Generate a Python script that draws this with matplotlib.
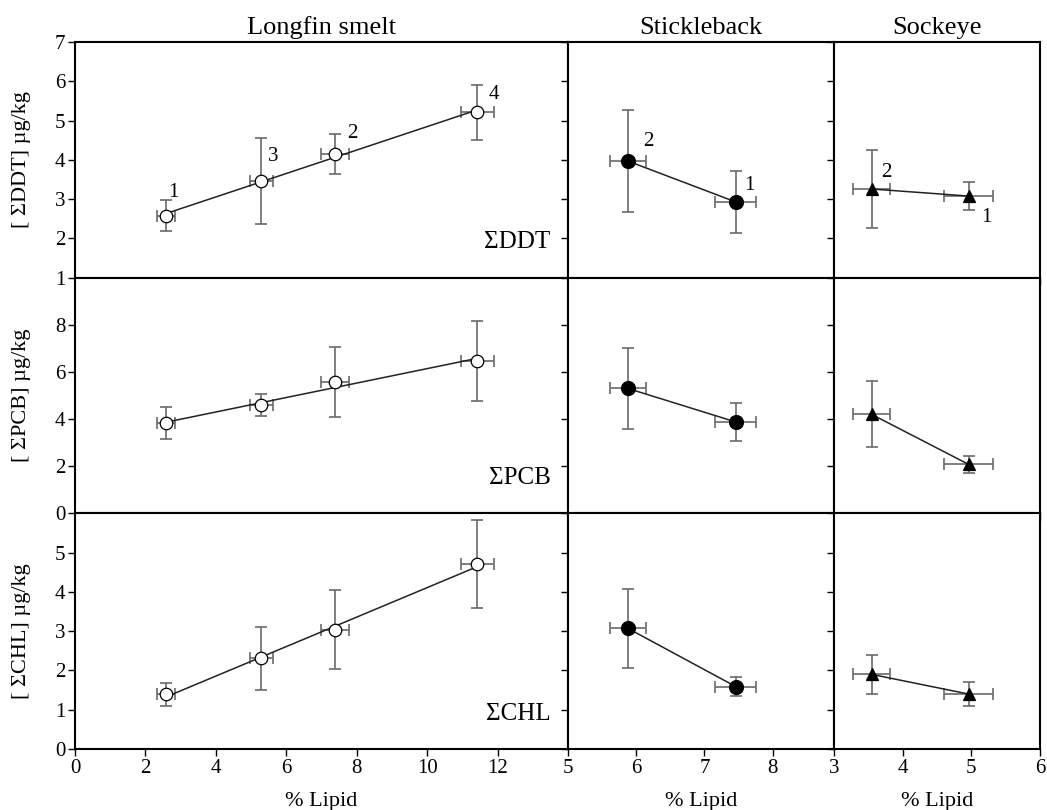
"""Contaminant concentration vs. % lipid for three fish species.

Rows: sum DDT, sum PCB, sum CHL. Columns: longfin smelt, stickleback, sockeye.
"""

import matplotlib

matplotlib.use("Agg")
import matplotlib.pyplot as plt
import numpy as np

# --------------------------------------------------------------------- #
# Data
# --------------------------------------------------------------------- #
SPECIES = ["Longfin smelt", "Stickleback", "Sockeye"]
COMPOUNDS = ["ΣDDT", "ΣPCB", "ΣCHL"]

# longfin smelt, sites in order of increasing lipid
lf_lipid = [2.59, 5.29, 7.39, 11.42]
lf_lipid_err = [0.26, 0.33, 0.40, 0.47]
lf_ddt = [2.58, 3.47, 4.15, 5.22]
lf_ddt_err = [0.40, 1.10, 0.50, 0.70]
lf_pcb = [3.83, 4.60, 5.58, 6.48]
lf_pcb_err = [0.69, 0.45, 1.50, 1.70]
lf_chl = [1.39, 2.31, 3.04, 4.70]
lf_chl_err = [0.30, 0.80, 1.00, 1.12]
lf_sites = ["1", "3", "2", "4"]

# stickleback
sb_lipid = [5.88, 7.46]
sb_lipid_err = [0.26, 0.30]
sb_ddt = [3.97, 2.93]
sb_ddt_err = [1.30, 0.80]
sb_pcb = [5.30, 3.88]
sb_pcb_err = [1.70, 0.80]
sb_chl = [3.07, 1.59]
sb_chl_err = [1.00, 0.25]
sb_sites = ["2", "1"]

# sockeye
sk_lipid = [3.55, 4.96]
sk_lipid_err = [0.27, 0.36]
sk_ddt = [3.26, 3.08]
sk_ddt_err = [1.00, 0.35]
sk_pcb = [4.20, 2.08]
sk_pcb_err = [1.40, 0.35]
sk_chl = [1.90, 1.40]
sk_chl_err = [0.50, 0.30]
sk_sites = ["2", "1"]

# axis ranges and ticks
XLIMS = [(0, 14), (5, 8.9), (3, 6)]
XTICKS = [[0, 2, 4, 6, 8, 10, 12], [5, 6, 7, 8], [3, 4, 5, 6]]
YLIMS = [(1, 7), (0, 10), (0, 6)]
YTICKS = [[1, 2, 3, 4, 5, 6, 7], [0, 2, 4, 6, 8], [0, 1, 2, 3, 4, 5]]

# site-label offsets (pixels) for the top row
LF_OFFSETS = [(7, 23), (12, 24), (17, 21), (17, 18)]
SB_OFFSETS = [(20, 20), (14, 16)]
SK_OFFSETS = [(15, 16), (18, -21)]

plt.rcParams["font.family"] = ["Liberation Serif", "DejaVu Serif"]

ERR_COLOR = "#6a6a6a"


def draw_panel(ax, x, xerr, y, yerr, marker, face, fit):
    ax.errorbar(x, y, xerr=xerr, yerr=yerr, fmt="none", ecolor=ERR_COLOR,
                elinewidth=1.2, capsize=4, capthick=1.2, zorder=2)
    if fit:
        # longfin panels show a least-squares line across the site range
        slope, icpt = np.polyfit(x, y, 1)
        xs = np.array([min(x), max(x)])
        ax.plot(xs, slope * xs + icpt, color="#222222", lw=1.1, zorder=3)
    else:
        ax.plot(x, y, color="#222222", lw=1.1, zorder=3)
    size = 10 if (marker == "o" and face == "black") else 9
    ax.plot(x, y, ls="none", marker=marker, ms=size, mfc=face, mec="black",
            mew=0.9, zorder=4)


fig = plt.figure(figsize=(10.47, 8.10), dpi=100)
gs = fig.add_gridspec(3, 3, left=0.0716, right=0.9933, top=0.948, bottom=0.0753,
                      width_ratios=[493, 266, 206], wspace=0, hspace=0)

series = [
    (lf_lipid, lf_lipid_err, [(lf_ddt, lf_ddt_err), (lf_pcb, lf_pcb_err),
                              (lf_chl, lf_chl_err)], "o", "white", True,
     lf_sites, LF_OFFSETS),
    (sb_lipid, sb_lipid_err, [(sb_ddt, sb_ddt_err), (sb_pcb, sb_pcb_err),
                              (sb_chl, sb_chl_err)], "o", "black", False,
     sb_sites, SB_OFFSETS),
    (sk_lipid, sk_lipid_err, [(sk_ddt, sk_ddt_err), (sk_pcb, sk_pcb_err),
                              (sk_chl, sk_chl_err)], "^", "black", False,
     sk_sites, SK_OFFSETS),
]

for col, (lx, lxe, rows, marker, face, fit, sites, offs) in enumerate(series):
    for row, (vals, errs) in enumerate(rows):
        ax = fig.add_subplot(gs[row, col])
        draw_panel(ax, lx, lxe, vals, errs, marker, face, fit)
        ax.set_xlim(*XLIMS[col])
        ax.set_ylim(*YLIMS[row])
        ax.set_xticks(XTICKS[col])
        ax.set_yticks(YTICKS[row])
        ax.tick_params(direction="out", length=5, width=1.0, labelsize=15,
                       pad=2)
        for sp in ax.spines.values():
            sp.set_linewidth(1.5)
        if row < 2:
            ax.tick_params(labelbottom=False)
        else:
            ax.set_xlabel("% Lipid", fontsize=16, labelpad=10)
        if col > 0:
            ax.tick_params(labelleft=False)
        else:
            ax.set_ylabel(f"[ {COMPOUNDS[row]}] µg/kg", fontsize=16,
                          labelpad=17)
            ax.text(0.965, 0.15, COMPOUNDS[row], transform=ax.transAxes,
                    ha="right", va="center", fontsize=18)
        if row == 0:
            ax.set_title(SPECIES[col], fontsize=19, pad=6)
            for xi, yi, s, off in zip(lx, vals, sites, offs):
                ax.annotate(s, (xi, yi), xytext=off,
                            textcoords="offset pixels", ha="center",
                            va="center", fontsize=15)

fig.savefig("out.png", dpi=100)
